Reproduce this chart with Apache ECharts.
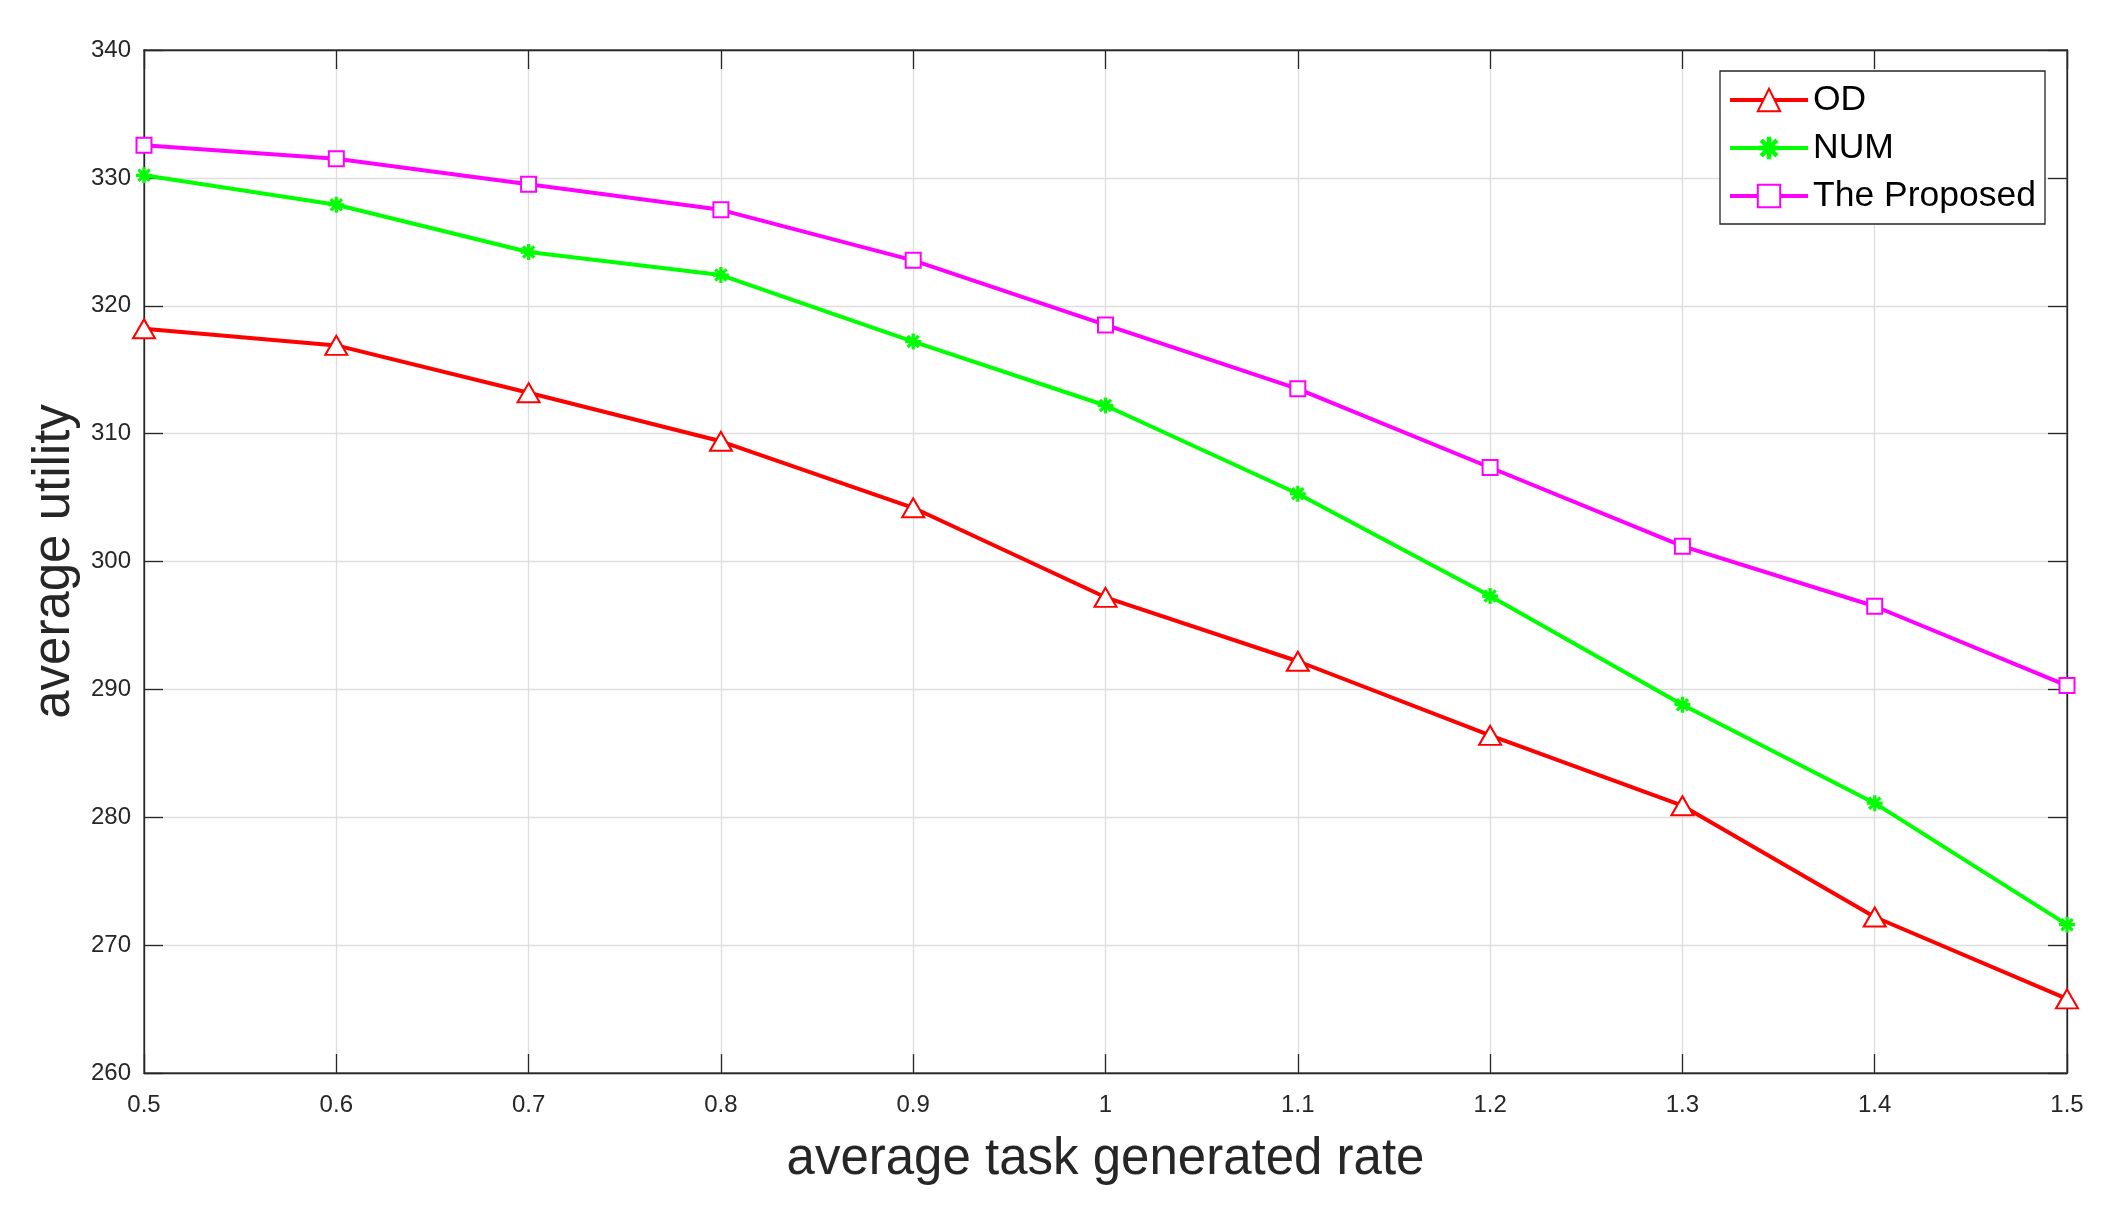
<!DOCTYPE html>
<html>
<head>
<meta charset="utf-8">
<script src="https://cdn.jsdelivr.net/npm/echarts@6/dist/echarts.min.js"></script>
<style>
html,body{margin:0;padding:0;background:#fff;}
#chart{width:2109px;height:1221px;}
</style>
</head>
<body>
<div id="chart"></div>
<script>
const categories = ['0.5','0.6','0.7','0.8','0.9','1','1.1','1.2','1.3','1.4','1.5'];
const odValues = [318.2, 316.9, 313.2, 309.4, 304.2, 297.2, 292.2, 286.4, 280.9, 272.2, 265.8];
const numValues = [330.2, 327.9, 324.2, 322.4, 317.2, 312.2, 305.3, 297.3, 288.8, 281.1, 271.6];
const proposedValues = [332.55, 331.5, 329.5, 327.5, 323.55, 318.5, 313.5, 307.35, 301.2, 296.5, 290.3];
const seriesNames = ['OD', 'NUM', 'The Proposed'];
const xTitle = 'average task generated rate';
const yTitle = 'average utility';

const FONT = '"Liberation Sans", Arial, Helvetica, sans-serif';
const AXIS = '#262626';
const starPath = 'path://M8 0 L12 0 L12 20 L8 20 Z M0 8 L20 8 L20 12 L0 12 Z M4.4 1.6 L18.4 15.6 L15.6 18.4 L1.6 4.4 Z M15.6 1.6 L18.4 4.4 L4.4 18.4 L1.6 15.6 Z';

const chart = echarts.init(document.getElementById('chart'), null, {renderer: 'canvas'});

const baseX = {
  type: 'category',
  data: categories,
  boundaryGap: false,
  axisLine: {show: true, lineStyle: {color: AXIS, width: 1.3}},
  axisTick: {show: true, inside: true, length: 19, alignWithLabel: true, lineStyle: {color: AXIS, width: 1.3}},
};
const baseY = {
  type: 'value',
  min: 260, max: 340, interval: 10,
  axisLine: {show: true, lineStyle: {color: AXIS, width: 1.3}},
  axisTick: {show: true, inside: true, length: 19, lineStyle: {color: AXIS, width: 1.3}},
};

chart.setOption({
  animation: false,
  backgroundColor: '#fff',
  textStyle: {fontFamily: FONT},
  grid: {left: 144, right: 42, top: 50, bottom: 148, containLabel: false,
         show: true, borderColor: AXIS, borderWidth: 1.3, backgroundColor: 'transparent'},
  xAxis: [
    Object.assign({}, baseX, {
      position: 'bottom',
      name: xTitle, nameLocation: 'middle', nameGap: 61,
      nameTextStyle: {fontSize: 51, color: AXIS, fontFamily: FONT},
      axisLabel: {fontSize: 24, color: AXIS, margin: 20, fontFamily: FONT},
      splitLine: {show: true, lineStyle: {color: '#dedede', width: 1.3}},
    }),
    Object.assign({}, baseX, {
      position: 'top',
      axisLabel: {show: false},
      splitLine: {show: false},
    })
  ],
  yAxis: [
    Object.assign({}, baseY, {
      position: 'left',
      name: yTitle, nameLocation: 'middle', nameGap: 57, nameRotate: 90,
      nameTextStyle: {fontSize: 51, color: AXIS, fontFamily: FONT},
      axisLabel: {fontSize: 24, color: AXIS, margin: 13, fontFamily: FONT},
      splitLine: {show: true, lineStyle: {color: '#dedede', width: 1.3}},
    }),
    Object.assign({}, baseY, {
      position: 'right',
      axisLabel: {show: false},
      splitLine: {show: false},
    })
  ],
  legend: {
    orient: 'vertical',
    left: 1720, top: 71,
    padding: [11, 9, 10, 8],
    itemWidth: 78, itemHeight: 28, itemGap: 12,
    backgroundColor: '#fff',
    borderColor: AXIS, borderWidth: 1.3, borderRadius: 0,
    lineStyle: {width: 4},
    textStyle: {fontSize: 35.5, color: '#000', fontFamily: FONT, lineHeight: 35},
    data: seriesNames
  },
  series: [
    {
      name: seriesNames[0], type: 'line', data: odValues,
      xAxisIndex: 0, yAxisIndex: 0,
      symbol: 'emptyTriangle', symbolSize: [22, 19],
      lineStyle: {color: '#ff0000', width: 4},
      itemStyle: {color: '#ff0000', borderColor: '#ff0000', borderWidth: 3.2},
      z: 3
    },
    {
      name: seriesNames[1], type: 'line', data: numValues,
      xAxisIndex: 0, yAxisIndex: 0,
      symbol: starPath, symbolSize: 16,
      lineStyle: {color: '#00ff00', width: 4},
      itemStyle: {color: '#00ff00', borderWidth: 0},
      z: 3
    },
    {
      name: seriesNames[2], type: 'line', data: proposedValues,
      xAxisIndex: 0, yAxisIndex: 0,
      symbol: 'emptyRect', symbolSize: 15,
      lineStyle: {color: '#ff00ff', width: 4},
      itemStyle: {color: '#ff00ff', borderColor: '#ff00ff', borderWidth: 3},
      z: 3
    }
  ]
});
</script>
</body>
</html>
